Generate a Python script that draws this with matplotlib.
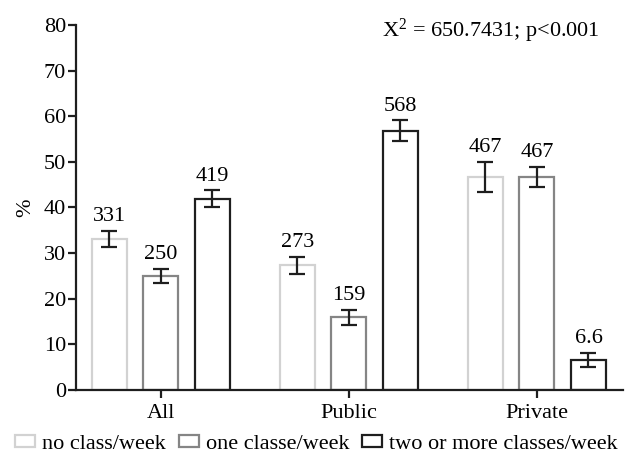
import numpy as np
import matplotlib
matplotlib.use("Agg")
import matplotlib.pyplot as plt

plt.rcParams['font.family'] = ['Liberation Serif', 'DejaVu Serif']
plt.rcParams['mathtext.fontset'] = 'custom'
plt.rcParams['mathtext.rm'] = 'Liberation Serif'
plt.rcParams['mathtext.it'] = 'Liberation Serif'

groups = ['All', 'Public', 'Private']
series = ['no class/week', 'one classe/week', 'two or more classes/week']
values = [
    [33.1, 27.3, 46.7],
    [25.0, 15.9, 46.7],
    [41.9, 56.8, 6.6],
]
errors = [
    [1.8, 1.9, 3.3],
    [1.6, 1.7, 2.2],
    [1.9, 2.3, 1.6],
]
labels = [
    ['331', '273', '467'],
    ['250', '159', '467'],
    ['419', '568', '6.6'],
]
edge_colors = ['#d2d2d2', '#858585', '#1e1e1e']

fig = plt.figure(figsize=(6.33, 4.58), dpi=100)
ax = fig.add_axes([0.120, 0.1485, 0.864, 0.797])

x = np.arange(len(groups))
pitch = 0.274
width = 0.186

for i in range(len(series)):
    pos = x + (i - 1) * pitch
    ax.bar(pos, values[i], width, facecolor='white', edgecolor=edge_colors[i],
           linewidth=1.6, label=series[i], zorder=2)
    ax.errorbar(pos, values[i], yerr=errors[i], fmt='none', ecolor='#1e1e1e',
                elinewidth=1.6, capsize=6, capthick=1.6, zorder=3)
    for p, v, e, t in zip(pos, values[i], errors[i], labels[i]):
        ax.text(p, v + e + 1.0, t, ha='center', va='bottom', fontsize=16)

ax.set_xlim(-0.452, 2.457)
ax.set_ylim(0, 80)
ax.set_yticks(np.arange(0, 81, 10))
ax.set_xticks(x)
ax.set_xticklabels(groups)
ax.set_ylabel('%', fontsize=16, labelpad=6)

for s in ['top', 'right']:
    ax.spines[s].set_visible(False)
for s in ['left', 'bottom']:
    ax.spines[s].set_linewidth(1.6)
    ax.spines[s].set_color('#1e1e1e')
ax.tick_params(axis='both', direction='out', width=1.6, length=6,
               labelsize=16, color='#1e1e1e', pad=1)
ax.tick_params(axis='x', pad=4)

fig.text(0.603, 0.963, r'X$^{2}$ = 650.7431; p<0.001', ha='left', va='top',
         fontsize=16)

fig.legend(loc='lower center', bbox_to_anchor=(0.5, -0.035), ncol=3, frameon=False,
           fontsize=16, handlelength=0.9, handleheight=0.5, handletextpad=0.3,
           columnspacing=0.6)

fig.savefig('out.png', dpi=100)
